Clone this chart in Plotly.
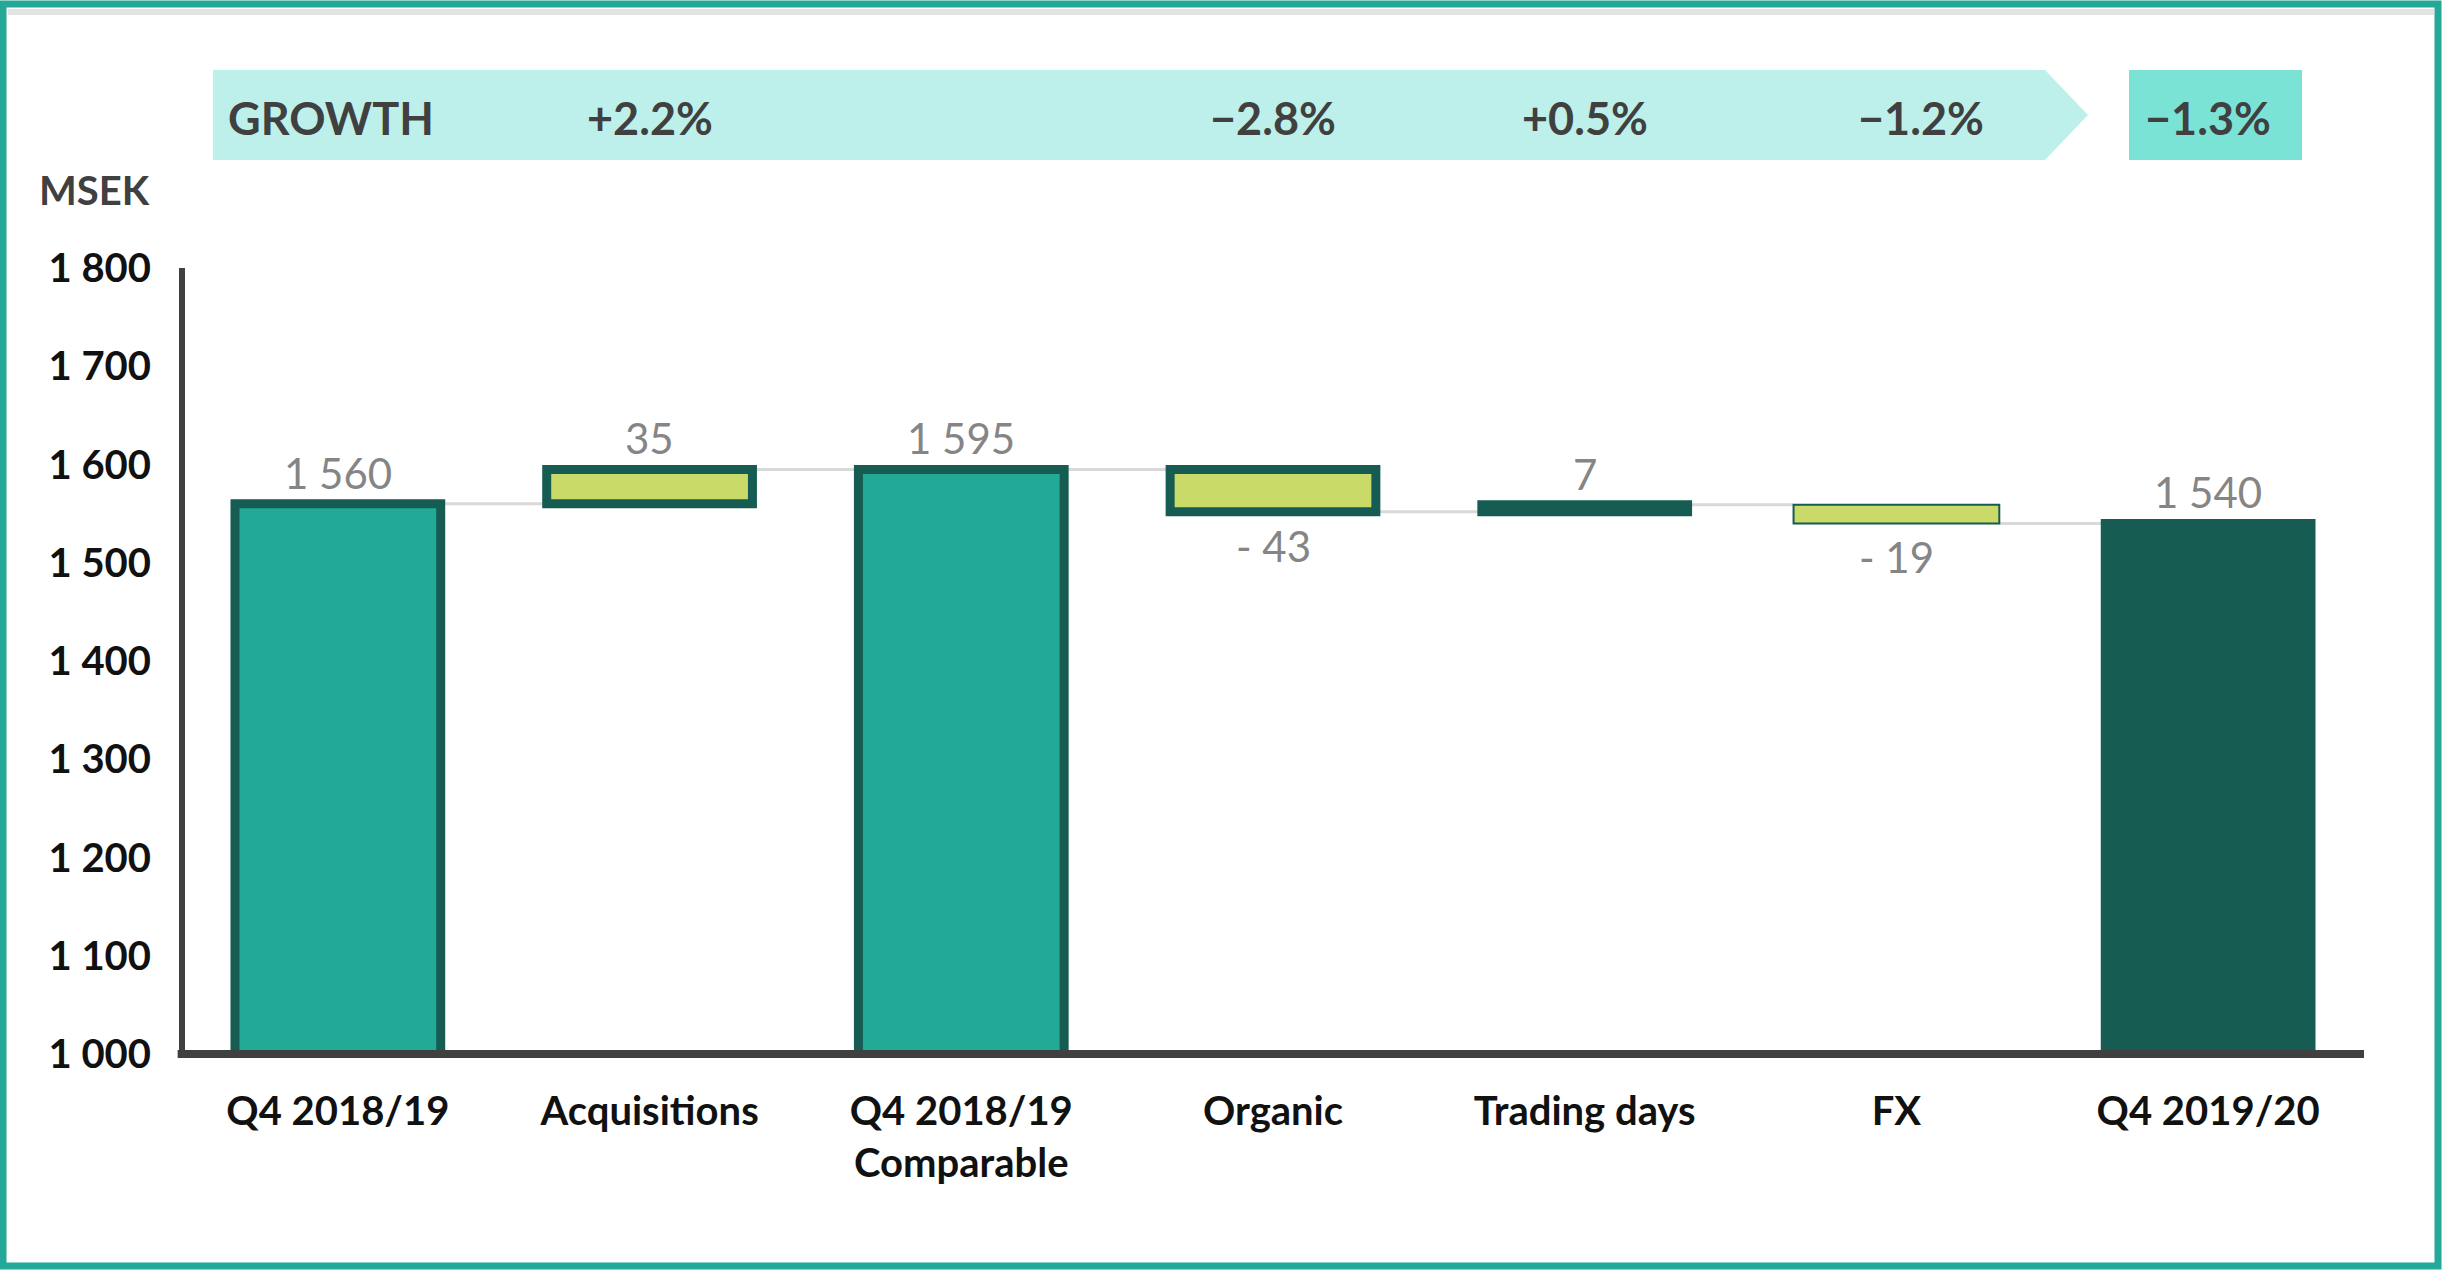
import plotly.graph_objects as go

# ---- data ----
categories = ["Q4 2018/19", "Acquisitions", "Q4 2018/19<br>Comparable", "Organic",
              "Trading days", "FX", "Q4 2019/20"]
values = [1560, 35, 1595, -43, 7, -19, 1540]
kinds = ["total", "delta", "total", "delta", "delta", "delta", "total"]
value_labels = ["1 560", "35", "1 595", "- 43", "7", "- 19", "1 540"]
growth_labels = [None, "+2.2%", None, "\u22122.8%", "+0.5%", "\u22121.2%", "\u22121.3%"]
y_tickvals = [1000, 1100, 1200, 1300, 1400, 1500, 1600, 1700, 1800]
y_ticktext = ["1 000", "1 100", "1 200", "1 300", "1 400", "1 500", "1 600", "1 700", "1 800"]

# ---- styles ----
TEAL = "#22AA97"
DARK = "#165C52"
LIME = "#C9DA68"
FRAME = "#24A897"
BANNER = "#BDF0EA"
BANNER_DARK = "#7BE3D6"
FONT = "Lato"

fill_by = {"Q4 2018/19": TEAL, "Q4 2018/19<br>Comparable": TEAL, "Acquisitions": LIME,
           "Organic": LIME, "Trading days": DARK, "FX": LIME, "Q4 2019/20": DARK}
lw_by = {"FX": 2}

bases, heights, running = [], [], []
total = 0
for v, k in zip(values, kinds):
    if k == "total":
        bases.append(0)
        heights.append(v)
        total = v
    else:
        bases.append(total)
        heights.append(v)
        total += v
    running.append(total)

colors = [fill_by[c] for c in categories]
lws = [lw_by.get(c, 9) for c in categories]
BW = 0.66

fig = go.Figure()
fig.add_trace(go.Bar(
    x=list(range(len(categories))), y=heights, base=bases, width=BW,
    marker=dict(color=colors, line=dict(color=DARK, width=lws)),
    hoverinfo="skip",
))

shapes = []
# connectors
for i in range(len(categories) - 1):
    shapes.append(dict(type="line", xref="x", yref="y", layer="below",
                       x0=i + BW / 2, x1=i + 1 - BW / 2, y0=running[i], y1=running[i],
                       line=dict(color="#D9D9D9", width=3)))

W, H = 2442, 1271
L, R, T, B = 182, 78, 268, 217
pw, ph = W - L - R, H - T - B
def px(x):
    return (x - L) / pw
def py(y):
    return (H - B - y) / ph

# growth banner (arrow)
x0, x1, xp = px(213), px(2045), px(2088)
y0, y1, ym = py(70), py(160), py(115)
shapes.append(dict(type="path", xref="paper", yref="paper", layer="below",
                   path=f"M {x0},{y0} L {x1},{y0} L {xp},{ym} L {x1},{y1} L {x0},{y1} Z",
                   fillcolor=BANNER, line=dict(width=0)))
shapes.append(dict(type="rect", xref="paper", yref="paper", layer="below",
                   x0=px(2129), x1=px(2302), y0=py(70), y1=py(160),
                   fillcolor=BANNER_DARK, line=dict(width=0)))
# frame
shapes.append(dict(type="line", xref="paper", yref="paper", x0=px(8), x1=px(2434),
                   y0=py(12), y1=py(12), line=dict(color="#E2E2E2", width=6)))
shapes.append(dict(type="rect", xref="paper", yref="paper",
                   x0=px(3), x1=px(2438), y0=py(4), y1=py(1266),
                   line=dict(color=FRAME, width=7), fillcolor="rgba(0,0,0,0)"))
# axes lines
shapes.append(dict(type="line", xref="paper", yref="paper", x0=0, x1=0, y0=0, y1=1,
                   line=dict(color="#404040", width=6)))
shapes.append(dict(type="line", xref="paper", yref="paper", x0=-0.002, x1=1, y0=0, y1=0,
                   line=dict(color="#404040", width=8)))

annotations = []
for i, (lab, h, b) in enumerate(zip(value_labels, heights, bases)):
    if h >= 0:
        annotations.append(dict(x=i, y=b + h, xref="x", yref="y", text=lab, showarrow=False,
                                yanchor="bottom", yshift=4,
                                font=dict(family=FONT, size=42, color="#858585")))
    else:
        annotations.append(dict(x=i, y=b + h, xref="x", yref="y", text=lab, showarrow=False,
                                yanchor="top", yshift=-7,
                                font=dict(family=FONT, size=42, color="#858585")))

annotations.append(dict(x=px(226), y=py(118), xref="paper", yref="paper", text="<b>GROWTH</b>",
                        showarrow=False, xanchor="left", yanchor="middle",
                        font=dict(family=FONT, size=45, color="#404040")))
for i, g in enumerate(growth_labels):
    if g:
        annotations.append(dict(x=i, y=py(118), xref="x", yref="paper", text=f"<b>{g}</b>",
                                showarrow=False, xanchor="center", yanchor="middle",
                                xshift=25 if categories[i] == "FX" else 0,
                                font=dict(family=FONT, size=45, color="#404040")))
annotations.append(dict(x=px(37), y=py(190), xref="paper", yref="paper", text="<b>MSEK</b>",
                        showarrow=False, xanchor="left", yanchor="middle",
                        font=dict(family=FONT, size=40, color="#404040")))

fig.update_layout(
    width=W, height=H,
    margin=dict(l=L, r=R, t=T, b=B),
    paper_bgcolor="white", plot_bgcolor="white",
    showlegend=False,
    shapes=shapes, annotations=annotations,
    xaxis=dict(tickmode="array", tickvals=list(range(len(categories))),
               ticktext=[f"<b>{c.replace('<br>', '</b><br><b>')}</b>" for c in categories],
               range=[-0.5, len(categories) - 0.5], showgrid=False, zeroline=False,
               showline=False, ticks="outside", ticklen=22, tickcolor="rgba(0,0,0,0)",
               tickfont=dict(family=FONT, size=40, color="#111111")),
    yaxis=dict(range=[1000, 1800], tickmode="array", tickvals=y_tickvals, ticktext=[f"<b>{t}</b>" for t in y_ticktext],
               showgrid=False, zeroline=False, showline=False, ticks="outside", ticklen=22,
               tickcolor="rgba(0,0,0,0)",
               tickfont=dict(family=FONT, size=40, color="#111111")),
)

fig.write_html("out.html", config={"displayModeBar": False},
               post_script="document.body.style.margin='0';")
